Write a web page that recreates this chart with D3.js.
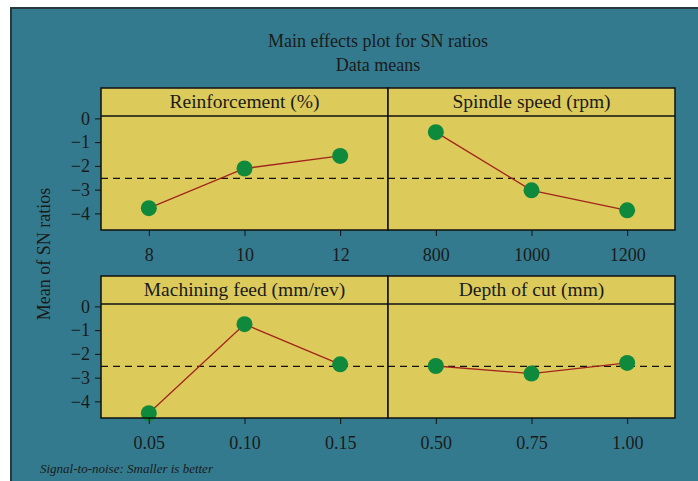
<!DOCTYPE html>
<html>
<head>
<meta charset="utf-8">
<script src="https://cdn.jsdelivr.net/npm/d3@7"></script>
<style>
  body { margin: 0; background: #fff; }
  svg text { font-family: "Liberation Serif", "DejaVu Serif", serif; fill: #1a1a1a; }
</style>
</head>
<body>
<div id="chart"></div>
<script>
// ============
//   Data
// ============

const factorNames = ["Reinforcement (%)", "Spindle speed (rpm)", "Machining feed (mm/rev)", "Depth of cut (mm)"];
const reinforcementLevels = ["8", "10", "12"];
const spindleLevels = ["800", "1000", "1200"];
const feedLevels = ["0.05", "0.10", "0.15"];
const depthLevels = ["0.50", "0.75", "1.00"];

const reinforcementSN = [-3.78, -2.11, -1.58];
const spindleSN = [-0.58, -3.03, -3.87];
const feedSN = [-4.50, -0.75, -2.44];
const depthSN = [-2.51, -2.83, -2.38];

const grandMean = -2.53;
const yTicks = [0, -1, -2, -3, -4];

// ============
//   Plot box
// ============

const W = 698, H = 481;
const panelW = 287, stripH = 28, plotH = 114;
const panelLeft = 101;
const rowTops = [88, 276];
const fontSize = "18px";

const svg = d3.select("#chart").append("svg")
    .attr("width", W)
    .attr("height", H);

// Teal background with dark border on top / left
svg.append("rect")
    .attr("x", 11).attr("y", 8)
    .attr("width", W).attr("height", H)
    .attr("fill", "#347a8e")
    .attr("stroke", "#27393c")
    .attr("stroke-width", 2);

// Titles
svg.append("text")
    .attr("x", 378).attr("y", 47)
    .attr("text-anchor", "middle")
    .style("font-size", fontSize)
    .text("Main effects plot for SN ratios");
svg.append("text")
    .attr("x", 378).attr("y", 71)
    .attr("text-anchor", "middle")
    .style("font-size", fontSize)
    .text("Data means");

// Y axis title
svg.append("text")
    .attr("transform", "translate(50, 254) rotate(-90)")
    .attr("text-anchor", "middle")
    .style("font-size", fontSize)
    .text("Mean of SN ratios");

// Footer
svg.append("text")
    .attr("x", 40).attr("y", 473)
    .style("font-size", "13px")
    .style("font-style", "italic")
    .text("Signal-to-noise: Smaller is better");

const factors = [
    { name: factorNames[0], levels: reinforcementLevels, values: reinforcementSN },
    { name: factorNames[1], levels: spindleLevels, values: spindleSN },
    { name: factorNames[2], levels: feedLevels, values: feedSN },
    { name: factorNames[3], levels: depthLevels, values: depthSN }
];

const yScale = d3.scaleLinear().domain([-4.7, 0.1]).range([plotH, 0]);

factors.forEach((f, i) => {
    const col = i % 2, row = Math.floor(i / 2);
    const x0 = panelLeft + col * panelW;
    const y0 = rowTops[row];

    const g = svg.append("g").attr("transform", `translate(${x0}, ${y0})`);

    // Panel and strip background (drawn first so marks sit on top)
    g.append("rect")
        .attr("width", panelW).attr("height", stripH + plotH)
        .attr("fill", "#dccb5b");

    const plot = g.append("g").attr("transform", `translate(0, ${stripH})`);
    const xScale = d3.scalePoint().domain(f.levels).range([0, panelW]).padding(0.5);

    // Reference (grand mean) line
    plot.append("line")
        .attr("x1", 0).attr("x2", panelW)
        .attr("y1", yScale(grandMean)).attr("y2", yScale(grandMean))
        .attr("stroke", "#111").attr("stroke-width", 1.3)
        .attr("stroke-dasharray", "7,5");

    // Main effect line
    plot.append("path")
        .datum(f.values)
        .attr("fill", "none")
        .attr("stroke", "#a3241c")
        .attr("stroke-width", 1.3)
        .attr("d", d3.line()
            .x((d, j) => xScale(f.levels[j]))
            .y(d => yScale(d)));

    // Points
    plot.selectAll("circle")
        .data(f.values)
        .join("circle")
            .attr("cx", (d, j) => xScale(f.levels[j]))
            .attr("cy", d => yScale(d))
            .attr("r", 8)
            .attr("fill", "#0f8a3c");

    // Strip label
    g.append("text")
        .attr("x", panelW / 2).attr("y", 20)
        .attr("text-anchor", "middle")
        .style("font-size", "19.5px")
        .text(f.name);

    // Strip separator and panel border
    g.append("line")
        .attr("x1", 0).attr("x2", panelW)
        .attr("y1", stripH).attr("y2", stripH)
        .attr("stroke", "#111").attr("stroke-width", 1.5);
    g.append("rect")
        .attr("width", panelW).attr("height", stripH + plotH)
        .attr("fill", "none")
        .attr("stroke", "#111").attr("stroke-width", 1.5);

    // X axis
    const xAxis = plot.append("g")
        .attr("transform", `translate(0, ${plotH})`)
        .call(d3.axisBottom(xScale).tickSize(6).tickPadding(12));
    xAxis.select(".domain").remove();
    xAxis.selectAll("line").attr("stroke", "#111");
    xAxis.selectAll("text").style("font-size", fontSize).attr("fill", "#1a1a1a");

    // Y axis only on the left column
    if (col === 0) {
        const yAxis = plot.append("g")
            .call(d3.axisLeft(yScale).tickValues(yTicks)
                .tickFormat(d => d === 0 ? "0" : "\u2212" + Math.abs(d))
                .tickSize(6).tickPadding(5));
        yAxis.select(".domain").remove();
        yAxis.selectAll("line").attr("stroke", "#111");
        yAxis.selectAll("text").style("font-size", fontSize).attr("fill", "#1a1a1a");
    }
});
</script>
</body>
</html>
